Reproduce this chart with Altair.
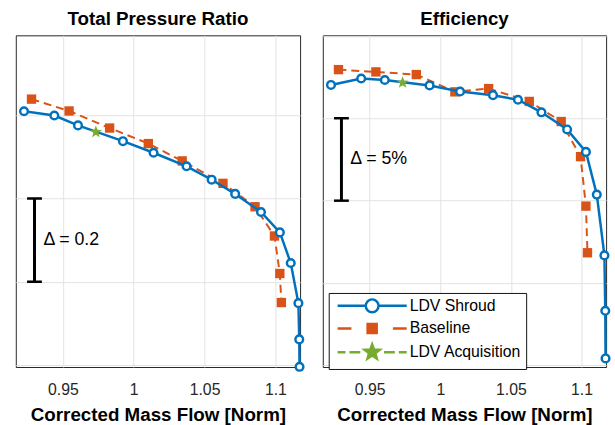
import altair as alt
import pandas as pd

# ---------------- data ----------------
series_names = ["LDV Shroud", "Baseline", "LDV Acquisition"]

mass_shroud = [0.9226, 0.9440, 0.9607, 0.9924, 1.0140, 1.0373, 1.0550,
               1.0716, 1.0898, 1.1031, 1.1108, 1.1162, 1.1168, 1.1170]
pr_shroud = [2.0095, 1.9993, 1.9756, 1.9376, 1.9098, 1.8773, 1.8451,
             1.8109, 1.7675, 1.7184, 1.6449, 1.5485, 1.4614, 1.3955]
eff_shroud = [87.02, 87.41, 87.32, 86.99, 86.62, 86.40, 86.12,
              85.36, 84.32, 82.96, 80.37, 76.68, 73.32, 70.43]

mass_base = [0.9279, 0.9544, 0.9830, 1.0103, 1.0342, 1.0630, 1.0856,
             1.0993, 1.1031, 1.1042]
pr_base = [2.0387, 2.0102, 1.9692, 1.9319, 1.8902, 1.8363, 1.7801,
           1.7098, 1.6197, 1.5499]
eff_base = [87.95, 87.81, 87.65, 86.60, 86.80, 86.02, 84.80,
            82.67, 79.67, 76.84]

mass_acq = [0.9733]
pr_acq = [1.9597]
eff_acq = [87.16]

x_ticks = [0.95, 1.0, 1.05, 1.1]
x_domain = [0.9168, 1.1174]
pr_ticks = [1.4, 1.6, 1.8, 2.0]
pr_domain = [1.395, 2.192]
eff_ticks = [70, 75, 80, 85, 90]
eff_domain = [69.91, 90.03]

delta_x = [0.93]
pr_delta = [1.6, 1.8]
pr_delta_mid = [1.7]
pr_delta_label = ["\u0394 = 0.2"]
eff_delta = [80, 85]
eff_delta_mid = [82.5]
eff_delta_label = ["\u0394 = 5%"]

# ---------------- style ----------------
FONT = "Liberation Sans"
BLUE = "#0072BD"
ORANGE = "#D95319"
GREEN = "#77AC30"

# unit star (coordinates within [-1, 1])
STAR = ("M0,-1L0.241,-0.332L0.951,-0.309L0.39,0.127L0.588,0.809L0,0.41"
        "L-0.588,0.809L-0.39,0.127L-0.951,-0.309L-0.241,-0.332Z")

# legend symbols: line + marker, in pixel units (symbolSize=4 -> 1 unit = 1 px)
P_SHROUD = ("M-35,0L-6.5,0M6.5,0L35,0"
            "M-6.5,0A6.5,6.5 0 1,1 6.5,0A6.5,6.5 0 1,1 -6.5,0Z")
P_BASE = ("M-35,0L-21,0M21,0L35,0"
          "M-4.6,-4.6L4.6,-4.6L4.6,4.6L-4.6,4.6Z")
P_ACQ = ("M-35,0L-27,0M-23,0L-12,0M12,0L23,0M27,0L35,0"
         "M0,-8L1.94,-2.67L7.61,-2.47L3.14,1.02L4.7,6.47L0,3.3"
         "L-4.7,6.47L-3.14,1.02L-7.61,-2.47L-1.94,-2.67Z")


def panel(y_s, y_b, y_a, ydom, yticks, title, dvals, dmid, dlabel, width,
          with_legend):
    shroud = pd.DataFrame({"x": mass_shroud, "y": y_s})
    base = pd.DataFrame({"x": mass_base, "y": y_b})
    acq = pd.DataFrame({"x": mass_acq, "y": y_a})
    caps = pd.DataFrame({"x": delta_x * len(dvals), "y": dvals})
    rule = pd.DataFrame({"x": delta_x, "y": [dvals[0]], "hi": [dvals[1]],
                         "mid": dmid, "label": dlabel})

    X = alt.X("x:Q", scale=alt.Scale(domain=x_domain, nice=False, zero=False),
              axis=alt.Axis(values=x_ticks, format="~g",
                            title="Corrected Mass Flow [Norm]"))
    Y = alt.Y("y:Q", scale=alt.Scale(domain=ydom, nice=False, zero=False),
              axis=alt.Axis(values=yticks, labels=False, ticks=False,
                            domain=False, title=None))

    layers = [
        alt.Chart(base).mark_line(color=ORANGE, strokeWidth=2,
                                  strokeDash=[8, 5]).encode(x=X, y=Y),
        alt.Chart(base).mark_point(shape="square", filled=True, size=90,
                                   color=ORANGE, opacity=1).encode(x=X, y=Y),
        alt.Chart(shroud).mark_line(color=BLUE, strokeWidth=2.5).encode(
            x=X, y=Y),
        alt.Chart(shroud).mark_point(shape="circle", filled=True, fill="white",
                                     stroke=BLUE, strokeWidth=2.5, size=60,
                                     opacity=1).encode(x=X, y=Y),
        alt.Chart(acq).mark_point(shape=STAR, filled=True, color=GREEN,
                                  size=169, opacity=1).encode(x=X, y=Y),
        alt.Chart(rule).mark_rule(color="black", strokeWidth=3).encode(
            x=X, y=Y, y2=alt.Y2("hi")),
        alt.Chart(caps).mark_tick(orient="horizontal", color="black",
                                  size=15, thickness=2.5, opacity=1).encode(
            x=X, y=Y),
        alt.Chart(rule).mark_text(align="left", baseline="middle", dx=9,
                                  fontSize=18, font=FONT,
                                  color="black").encode(
            x=X, y=alt.Y("mid:Q"), text=alt.Text("label:N")),
    ]

    if with_legend:
        leg = dict(title=None, orient="none", legendX=6, legendY=261,
                   symbolSize=4, symbolOffset=31, labelOffset=30,
                   symbolStrokeWidth=2.5, labelFontSize=16, labelFont=FONT,
                   labelColor="black", strokeColor="#111111",
                   fillColor="white", padding=5, rowPadding=1,
                   cornerRadius=0)
        leg_df = pd.DataFrame({"series": series_names})
        layers.append(
            alt.Chart(leg_df).mark_point(filled=True, opacity=1,
                                         strokeWidth=2.5).encode(
                shape=alt.Shape("series:N", scale=alt.Scale(
                    domain=series_names, range=[P_SHROUD, P_BASE, P_ACQ]),
                    legend=alt.Legend(**leg)),
                fill=alt.Fill("series:N", scale=alt.Scale(
                    domain=series_names, range=["white", ORANGE, GREEN]),
                    legend=alt.Legend(**leg)),
                stroke=alt.Stroke("series:N", scale=alt.Scale(
                    domain=series_names, range=[BLUE, ORANGE, GREEN]),
                    legend=alt.Legend(**leg)),
                x=alt.value(0), y=alt.value(0),
            ).transform_filter("false")
        )

    return alt.layer(*layers).properties(
        width=width, height=336,
        title=alt.TitleParams(title, fontSize=19, fontWeight="bold",
                              font=FONT, color="black", offset=5, dy=14,
                              baseline="alphabetic"),
    )


left = panel(pr_shroud, pr_base, pr_acq, pr_domain, pr_ticks,
             "Total Pressure Ratio", pr_delta, pr_delta_mid, pr_delta_label,
             288, False)
right = panel(eff_shroud, eff_base, eff_acq, eff_domain, eff_ticks,
              "Efficiency", eff_delta, eff_delta_mid, eff_delta_label, 287,
              True)

chart = alt.hconcat(left, right, spacing=12).resolve_scale(
    x="independent", y="independent", shape="independent",
    fill="independent", stroke="independent"
).resolve_legend(
    shape="independent", fill="independent", stroke="independent"
).properties(
    padding={"left": 14, "top": 7, "right": 0, "bottom": 0},
    autosize=alt.AutoSizeParams(type="pad"),
    background="white",
).configure_view(
    stroke="#262626", strokeWidth=1
).configure_axis(
    grid=True, gridColor="#e3e3e3", gridWidth=1, minExtent=0,
).configure_axisX(
    labelFont=FONT, labelFontSize=16, labelColor="#262626",
    labelPadding=15, ticks=False, tickSize=0, domain=False,
    titleFont=FONT, titleFontSize=19, titleFontWeight="bold",
    titleColor="black", titlePadding=8,
)

chart.save("out.html", embed_options={"renderer": "svg", "actions": False})
